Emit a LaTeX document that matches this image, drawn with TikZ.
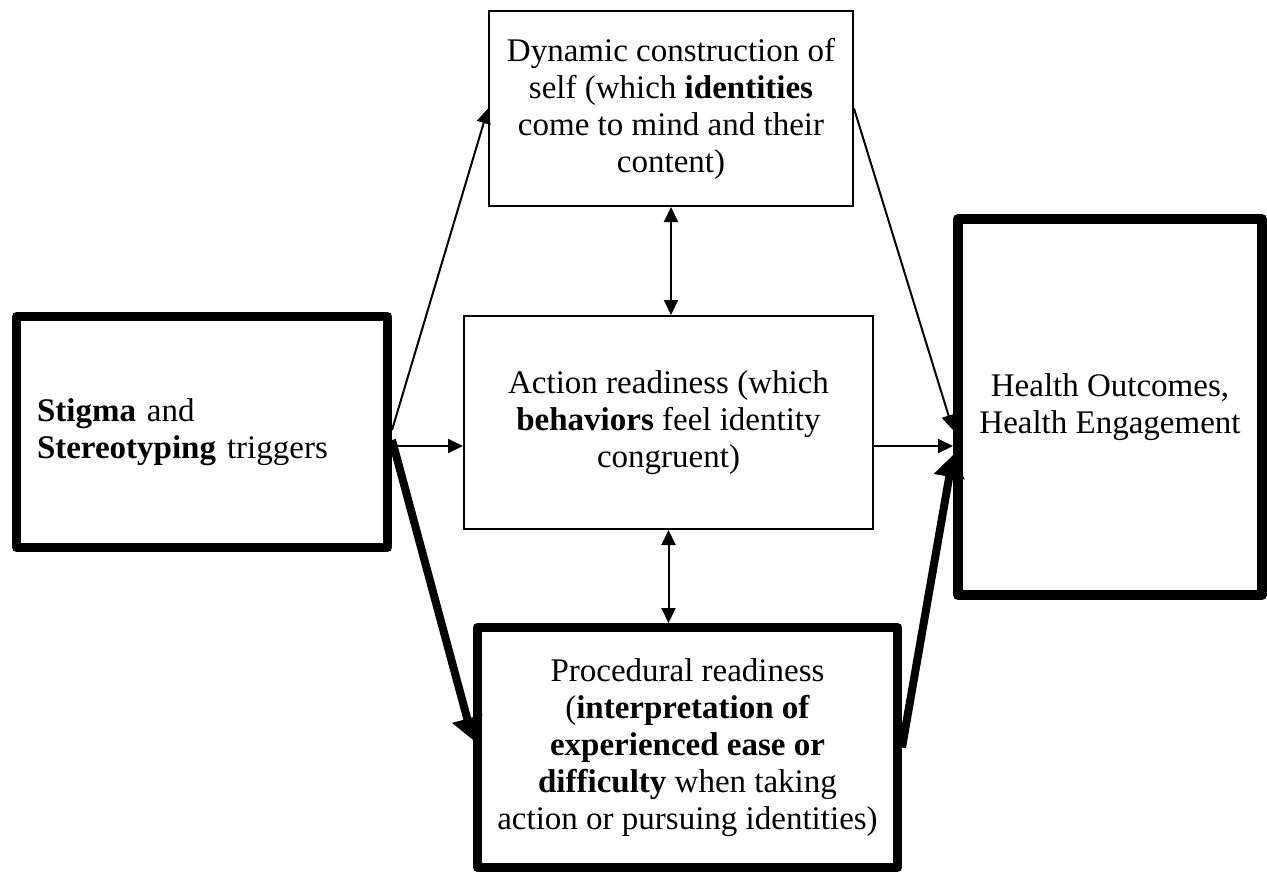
\documentclass[tikz,border=0pt]{standalone}
\usepackage{fontspec}
\setmainfont{Liberation Serif}
\usetikzlibrary{arrows.meta,calc}
\begin{document}
\begin{tikzpicture}[x=0.5pt,y=-0.5pt,
  box/.style={draw, line width=1pt, align=center, inner sep=0pt, font=\fontsize{16.5}{18.5}\selectfont},
  heavybox/.style={box, line width=4.5pt, line join=round},
  thinarrow/.style={line width=1pt, -{Triangle[length=7.5pt,width=7pt]}},
  bothways/.style={line width=1pt, {Triangle[length=7.5pt,width=7pt]}-{Triangle[length=7.5pt,width=7pt]}},
  thickarrow/.style={line width=4pt, -{Triangle[length=11pt,width=15pt]}}]
\useasboundingbox (0,0) rectangle (1267,873);
\node[heavybox, minimum width=185.5pt, minimum height=115.5pt, text width=165pt, align=left] (stigma) at (202,432)
  {\textbf{Stigma} and\\\textbf{Stereotyping} triggers};
\node[box, minimum width=182pt, minimum height=97.5pt] (topbox) at (671,108.5)
  {Dynamic construction of\\self (which \textbf{identities}\\come to mind and their\\content)};
\node[box, minimum width=204.5pt, minimum height=106.5pt] (midbox) at (668.5,422.5)
  {Action readiness (which\\\textbf{behaviors} feel identity\\congruent)};
\node[heavybox, minimum width=210pt, minimum height=120pt] (botbox) at (687.5,747.5)
  {Procedural readiness\\(\textbf{interpretation of}\\\textbf{experienced ease or}\\\textbf{difficulty} when taking\\action or pursuing identities)};
\node[heavybox, line width=5pt, minimum width=152pt, minimum height=188pt] (rightbox) at (1110,407)
  {Health Outcomes,\\Health Engagement};
\coordinate (s2) at ([yshift=-7pt]stigma.east);
\coordinate (m2) at ([yshift=-11.75pt]midbox.east);
\draw[thinarrow] ([yshift=1pt]stigma.east) -- (topbox.west);
\draw[thinarrow] (s2) -- (s2 -| midbox.west);
\draw[thickarrow] ([yshift=-4pt]stigma.east) -- ([yshift=3.75pt]botbox.west);
\draw[thinarrow] (topbox.east) -- ([yshift=-11.5pt]rightbox.west);
\draw[thinarrow] (m2) -- (m2 -| rightbox.west);
\draw[thickarrow] (botbox.east) -- ([yshift=-24pt]rightbox.west);
\draw[bothways] (topbox.south) -- (topbox.south |- midbox.north);
\draw[bothways] (midbox.south) -- (midbox.south |- botbox.north);
\end{tikzpicture}
\end{document}
